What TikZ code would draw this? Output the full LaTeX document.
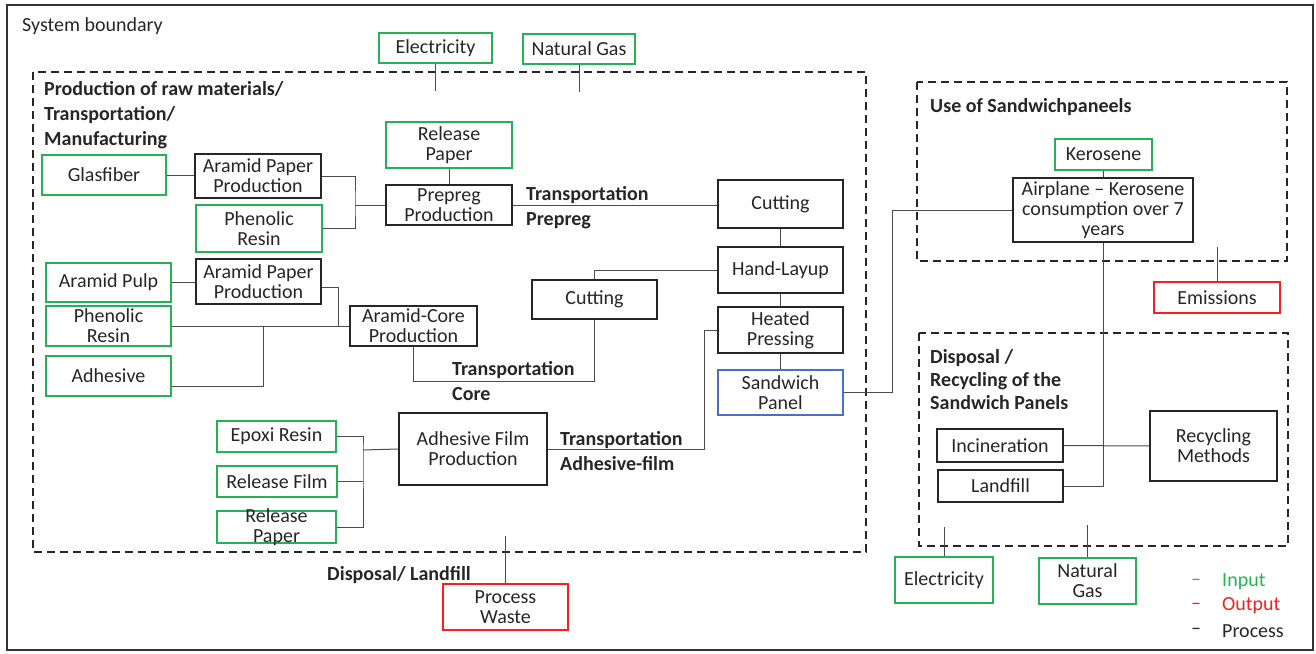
\documentclass[tikz,border=0pt]{standalone}
\usepackage{fontspec}
\setmainfont{Carlito}
\usetikzlibrary{calc}
\definecolor{ingreen}{RGB}{36,178,84}
\definecolor{outred}{RGB}{250,30,30}
\definecolor{panelblue}{RGB}{68,114,196}
\newcommand\bxfont{\fontsize{20}{20}\selectfont}
\newcommand\lbfont{\fontsize{20}{25}\selectfont\bfseries}
\tikzset{
  box/.style={draw,line width=2pt,inner sep=0pt,align=center,fill=white,
    text=black!85,font=\bxfont},
  sz/.style 2 args={minimum width=#1pt,minimum height=#2pt},
  inbox/.style={box,draw=ingreen},
  outbox/.style={box,draw=outred},
  probox/.style={box,draw=black!85},
  panelbox/.style={box,draw=panelblue},
  zone/.style={draw=black!85,line width=2pt,dash pattern=on 8pt off 5pt},
  conn/.style={draw=black!70,line width=1pt},
  lab/.style={font=\lbfont,text=black!85,align=left,inner sep=0pt}
}
\begin{document}
\begin{tikzpicture}[x=1pt,y=-1pt]
	\useasboundingbox (0,0) rectangle (1316,653);
	%Rahmen
	\draw[black!80,line width=2pt] (7,5) rectangle (1313,650);
	\node[anchor=west,inner sep=0pt,font=\bxfont,text=black!85] (sysb) at (22,26) {System boundary};
	\draw[zone] (33,72) rectangle (866,552);
	\draw[zone] (917,82) rectangle (1287,261);
	\draw[zone] (919,333) rectangle (1288,546);
	\node[lab,anchor=north west] (tprod) at (44,81) {Production of raw materials/\\Transportation/\\Manufacturing};
	\node[lab,anchor=north west] (tuse) at (930,98) {Use of Sandwichpaneels};
	\node[lab,anchor=north west,font=\fontsize{20}{23}\selectfont\bfseries] (tdisp) at (930,349) {Disposal /\\Recycling of the\\Sandwich Panels};
	%Energie
	\node[inbox,sz={113}{30}] (elec1) at (435.5,48) {Electricity};
	\node[inbox,sz={112}{30}] (gas1) at (579,49) {Natural Gas};
	%Prepreg
	\node[inbox,sz={124}{40}] (glas) at (104,175) {Glasfiber};
	\node[probox,sz={126}{44}] (app1) at (258,176) {Aramid Paper\\Production};
	\node[inbox,sz={126}{47}] (phen1) at (259,228.5) {Phenolic\\Resin};
	\node[inbox,sz={126}{46}] (rel1) at (449,145) {Release\\Paper};
	\node[probox,sz={126}{40}] (prepreg) at (449,205) {Prepreg\\Production};
	%Kern
	\node[inbox,sz={125}{39}] (pulp) at (108.5,282.5) {Aramid Pulp};
	\node[probox,sz={125}{45}] (app2) at (258.5,281.5) {Aramid Paper\\Production};
	\node[inbox,sz={125}{40}] (phen2) at (108.5,326) {Phenolic\\Resin};
	\node[inbox,sz={125}{40}] (adh) at (108.5,376) {Adhesive};
	\node[probox,sz={127}{40}] (core) at (413.5,326) {Aramid-Core\\Production};
	%Klebefilm
	\node[inbox,sz={119}{31}] (epoxi) at (276.5,436.5) {Epoxi Resin};
	\node[inbox,sz={120}{31}] (relf) at (277,481.5) {Release Film};
	\node[inbox,sz={119}{32},label={[font=\bxfont,text=black!85,align=center,inner sep=0pt]center:Release\\Paper}] (relp2) at (276.5,527) {};
	\node[probox,sz={148}{72}] (afp) at (473,449) {Adhesive Film\\Production};
	%Fertigung
	\node[probox,sz={125}{48}] (cut1) at (780.5,204) {Cutting};
	\node[probox,sz={125}{46}] (layup) at (780.5,270) {Hand-Layup};
	\node[probox,sz={125}{39}] (cut2) at (594.5,299.5) {Cutting};
	\node[probox,sz={125}{46}] (press) at (780.5,330) {Heated\\Pressing};
	\node[panelbox,sz={125}{45}] (panel) at (780.5,392.5) {Sandwich\\Panel};
	\node[outbox,sz={125}{46}] (waste) at (505.5,607) {Process\\Waste};
	%Nutzung
	\node[inbox,sz={97}{31}] (kero) at (1103.5,154.5) {Kerosene};
	\node[probox,sz={180}{64}] (plane) at (1103,210) {Airplane -- Kerosene\\consumption over 7\\years};
	\node[outbox,sz={126}{31}] (emis) at (1217,297.5) {Emissions};
	%Entsorgung
	\node[probox,sz={126}{33}] (incin) at (1000,445.5) {Incineration};
	\node[probox,sz={125}{32}] (landfill) at (1000.5,486) {Landfill};
	\node[probox,sz={127}{70}] (recyc) at (1213.5,446) {Recycling\\Methods};
	\node[inbox,sz={98}{46}] (elec2) at (944,580) {Electricity};
	\node[inbox,sz={97}{46}] (gas2) at (1087.5,581) {Natural\\Gas};
	%Transport
	\node[lab,anchor=north west] (tpre) at (526,186) {Transportation\\Prepreg};
	\node[lab,anchor=north west] (tcore) at (452,361) {Transportation\\Core};
	\node[lab,anchor=north west] (tfilm) at (560,431) {Transportation\\Adhesive-film};
	\node[lab,anchor=east] (tland) at (471,575) {Disposal/ Landfill};
	%Legende
	\foreach \y/\c/\t [count=\i] in {582/ingreen/Input,606/outred/Output,631/black!85/Process}{
		\node[font=\bxfont,text=\c,inner sep=0pt] (dash\i) at (1196,\y) {--};
		\node[font=\bxfont,text=\c,anchor=west,inner sep=0pt] (leg\i) at (1222,\y) {\t};
	}
	%Linien
	\coordinate (jpre) at (355,205);
	\coordinate (jfilm) at (363,450);
	\draw[conn] (glas.east) -- (glas.east -| app1.west);
	\draw[conn] (app1.east) -| (jpre) |- (phen1.east);
	\draw[conn] (jpre) -- (prepreg.west);
	\draw[conn] (rel1) -- (prepreg);
	\draw[conn] (prepreg.east) -- (prepreg.east -| cut1.west);
	\draw[conn] (cut1) -- (layup);
	\draw[conn] (layup) -- (press);
	\draw[conn] (press) -- (panel);
	\draw[conn] (layup.west) -| (cut2.north);
	\draw[conn] (cut2.south) -- ++(0,61) -| (core.south);
	\draw[conn] (press.west) -- ++(-13,0) |- (afp.east);
	\draw[conn] (epoxi.east) -| (jfilm) |- (relp2.east);
	\draw[conn] (relf.east) -- (relf.east -| jfilm);
	\draw[conn] (jfilm) -- (afp.west);
	\draw[conn] (pulp.east) -- (pulp.east -| app2.west);
	\draw[conn] (phen2.east) -- (core.west);
	\draw[conn] ([yshift=-6pt]app2.east) -- ++(16,0) |- (core.west);
	\draw[conn] ([yshift=-10pt]adh.east) -- ++(91,0) |- (core.west);
	\draw[conn] (panel.east) -- ++(48,0) |- (plane.west);
	\draw[conn] (kero) -- (plane);
	\draw[conn] (plane.south) |- (landfill.east);
	\draw[conn] (incin) -- (recyc);
	\draw[conn] (emis.north) -- ++(0,-34);
	\draw[conn] (elec1.south) -- ++(0,27);
	\draw[conn] (gas1.south) -- ++(0,27);
	\draw[conn] (elec2.north) -- ++(0,-29);
	\draw[conn] (gas2.north) -- ++(0,-32);
	\draw[conn] (waste.north) -- ++(0,-47);
\end{tikzpicture}
\end{document}
